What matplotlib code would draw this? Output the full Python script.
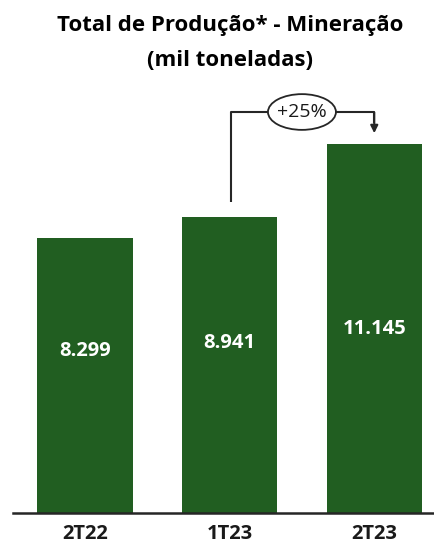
import matplotlib
matplotlib.use('Agg')
import matplotlib.pyplot as plt
from matplotlib.patches import Ellipse

# dados do gráfico
periodos = ["2T22", "1T23", "2T23"]
producao = [8299, 8941, 11145]
rotulos = ["8.299", "8.941", "11.145"]
variacao = "+25%"

VERDE = "#215E21"
CINZA = "#262626"

plt.rcParams['font.family'] = ['Open Sans', 'DejaVu Sans']

fig = plt.figure(figsize=(4.35, 5.49), dpi=100)
ax = fig.add_axes([13 / 435, 1 - 513 / 549, 1 - 13 / 435, (513 - 60) / 549])

x = list(range(len(periodos)))
ax.bar(x, producao, width=0.66, color=VERDE, zorder=2)

# posição vertical dos rótulos dentro das barras (fração da altura)
frac_rotulo = [0.59, 0.575, 0.5]
for xi, v, txt, f in zip(x, producao, rotulos, frac_rotulo):
    ax.text(xi, v * f, txt, ha='center', va='center', color='white',
            fontsize=14.5, fontweight='bold', zorder=3)

ax.set_xlim(-0.498, 2.42)
ax.set_ylim(0, 13686)

for s in ['top', 'right', 'left']:
    ax.spines[s].set_visible(False)
ax.spines['bottom'].set_color(CINZA)
ax.spines['bottom'].set_linewidth(1.8)
ax.set_yticks([])
ax.set_xticks(x)
ax.set_xticklabels(periodos, fontsize=14.5, fontweight='bold', color='#1a1a1a')
ax.tick_params(axis='x', length=0, pad=8)

# seta de variação 1T23 -> 2T23
y_ini = producao[1] + 450
y_top = producao[2] + 970
y_tip = producao[2] + 330
ax.plot([1.01, 1.01, 2.0, 2.0], [y_ini, y_top, y_top, y_tip + 300],
        color=CINZA, lw=1.5, zorder=4, solid_capstyle='butt')
ax.annotate('', xy=(2.0, y_tip), xytext=(2.0, y_top - 10),
            arrowprops=dict(arrowstyle='-|>', color=CINZA, lw=1.5,
                            mutation_scale=11, shrinkA=0, shrinkB=0),
            zorder=4)
ax.add_patch(Ellipse((1.50, y_top), 0.47, 1080, facecolor='white',
                     edgecolor=CINZA, lw=1.3, zorder=5))
ax.text(1.50, y_top, variacao, ha='center', va='center', fontsize=14,
        color='#1a1a1a', zorder=6)

fig.text(230 / 435, 1 - 26 / 549, "Total de Produção* - Mineração",
         ha='center', va='center', fontsize=16, fontweight='bold')
fig.text(230 / 435, 1 - 60 / 549, "(mil toneladas)",
         ha='center', va='center', fontsize=16, fontweight='bold')

fig.savefig('out.png', dpi=100)
plt.close()
